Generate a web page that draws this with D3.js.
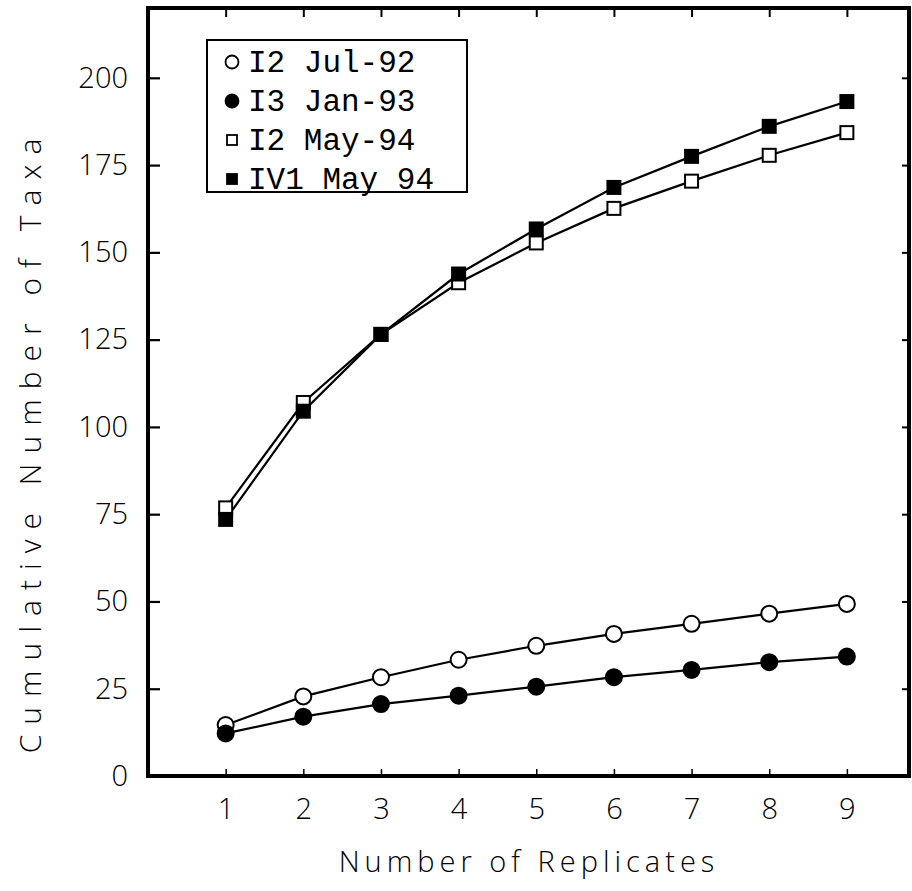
<!DOCTYPE html>
<html>
<head>
<meta charset="utf-8">
<script src="https://cdn.jsdelivr.net/npm/d3@7"></script>
<style>
  html, body { margin: 0; padding: 0; background: #fff; }
  svg { display: block; }
</style>
</head>
<body>
<svg id="chart" width="912" height="891"></svg>
<script>
const replicates = [1, 2, 3, 4, 5, 6, 7, 8, 9];
const seriesNames = ["I2 Jul-92", "I3 Jan-93", "I2 May-94", "IV1 May 94"];
const i2Jul92  = [14.6, 22.8, 28.3, 33.3, 37.3, 40.7, 43.6, 46.5, 49.3];
const i3Jan93  = [12.2, 17.0, 20.6, 23.0, 25.6, 28.3, 30.4, 32.6, 34.2];
const i2May94  = [76.8, 107.0, 126.5, 141.3, 152.7, 162.6, 170.4, 177.8, 184.3];
const iv1May94 = [73.5, 104.5, 126.5, 143.8, 156.7, 168.6, 177.5, 186.1, 193.2];
const yTicks = [0, 25, 50, 75, 100, 125, 150, 175, 200];
const xTicks = [1, 2, 3, 4, 5, 6, 7, 8, 9];

const series = [
  { name: seriesNames[0], values: i2Jul92,  shape: "circle", fill: "#fff" },
  { name: seriesNames[1], values: i3Jan93,  shape: "circle", fill: "#000" },
  { name: seriesNames[2], values: i2May94,  shape: "square", fill: "#fff" },
  { name: seriesNames[3], values: iv1May94, shape: "square", fill: "#000" }
];

const svg = d3.select("#chart");
const L = 148, R = 909, T = 8, B = 776;
const x = d3.scaleLinear().domain([0, 9.8]).range([L, R]);
const y = d3.scaleLinear().domain([0, 220]).range([B, T]);

const tickFont = "'Open Sans', 'DejaVu Sans', sans-serif";

// Axes with inward ticks
const leftAxis = d3.axisLeft(y).tickValues(yTicks).tickSize(-12).tickPadding(20).tickFormat(d3.format("d"));
const gL = svg.append("g").attr("transform", `translate(${L},0)`).call(leftAxis);
gL.select(".domain").remove();
gL.selectAll("line").attr("stroke", "#000").attr("stroke-width", 2.2);
gL.selectAll("text").attr("font-family", tickFont).attr("font-size", 29).attr("font-weight", 300).attr("fill", "#000");

const rightAxis = d3.axisRight(y).tickValues(yTicks.slice(1)).tickSize(-7).tickFormat("");
const gR = svg.append("g").attr("transform", `translate(${R},0)`).call(rightAxis);
gR.select(".domain").remove();
gR.selectAll("line").attr("stroke", "#000").attr("stroke-width", 2);

const bottomAxis = d3.axisBottom(x).tickValues(xTicks).tickSize(-7).tickPadding(22).tickFormat(d3.format("d"));
const gB = svg.append("g").attr("transform", `translate(0,${B})`).call(bottomAxis);
gB.select(".domain").remove();
gB.selectAll("line").attr("stroke", "#000").attr("stroke-width", 1.5);
gB.selectAll("text").attr("font-family", tickFont).attr("font-size", 29).attr("font-weight", 300).attr("fill", "#000");

const topAxis = d3.axisTop(x).tickValues(xTicks).tickSize(-9).tickFormat("");
const gT = svg.append("g").attr("transform", `translate(0,${T})`).call(topAxis);
gT.select(".domain").remove();
gT.selectAll("line").attr("stroke", "#000").attr("stroke-width", 2);

// Frame
svg.append("rect")
  .attr("x", L).attr("y", T).attr("width", R - L).attr("height", B - T)
  .attr("fill", "none").attr("stroke", "#000").attr("stroke-width", 4);

// Lines
const line = d3.line().x((d, i) => x(replicates[i])).y(d => y(d));
series.forEach(s => {
  svg.append("path").datum(s.values)
    .attr("d", line).attr("fill", "none").attr("stroke", "#000").attr("stroke-width", 2.2);
});

// Markers
series.forEach(s => {
  const g = svg.append("g");
  if (s.shape === "circle") {
    g.selectAll("circle").data(s.values).join("circle")
      .attr("cx", (d, i) => x(replicates[i])).attr("cy", d => y(d)).attr("r", 8)
      .attr("fill", s.fill).attr("stroke", "#000").attr("stroke-width", 2);
  } else {
    g.selectAll("rect").data(s.values).join("rect")
      .attr("x", (d, i) => x(replicates[i]) - 6.5).attr("y", d => y(d) - 6.5)
      .attr("width", 13).attr("height", 13)
      .attr("fill", s.fill).attr("stroke", "#000").attr("stroke-width", 2);
  }
});

// Legend
const leg = svg.append("g");
leg.append("rect").attr("x", 207).attr("y", 40).attr("width", 260).attr("height", 152)
  .attr("fill", "#fff").attr("stroke", "#000").attr("stroke-width", 2);
const rowY = [62, 101, 140, 179];
series.forEach((s, i) => {
  const cy = rowY[i];
  if (s.shape === "circle") {
    leg.append("circle").attr("cx", 232).attr("cy", cy).attr("r", 6.5)
      .attr("fill", s.fill).attr("stroke", "#000").attr("stroke-width", 1.8);
  } else {
    leg.append("rect").attr("x", 227).attr("y", cy - 5).attr("width", 10).attr("height", 10)
      .attr("fill", s.fill).attr("stroke", "#000").attr("stroke-width", 1.8);
  }
  leg.append("text").attr("x", 248).attr("y", cy + 10)
    .attr("font-family", "'Liberation Mono', 'DejaVu Sans Mono', monospace")
    .attr("font-size", 31).attr("fill", "#000")
    .text(s.name);
});

// Axis titles
svg.append("text")
  .attr("x", 529).attr("y", 872)
  .attr("text-anchor", "middle")
  .attr("font-family", tickFont).attr("font-size", 29).attr("font-weight", 300).attr("letter-spacing", 5)
  .text("Number of Replicates");

svg.append("text")
  .attr("transform", `translate(41,441) rotate(-90)`)
  .attr("text-anchor", "middle")
  .attr("font-family", tickFont).attr("font-size", 30).attr("font-weight", 300).attr("letter-spacing", 10)
  .text("Cumulative Number of Taxa");
</script>
</body>
</html>
